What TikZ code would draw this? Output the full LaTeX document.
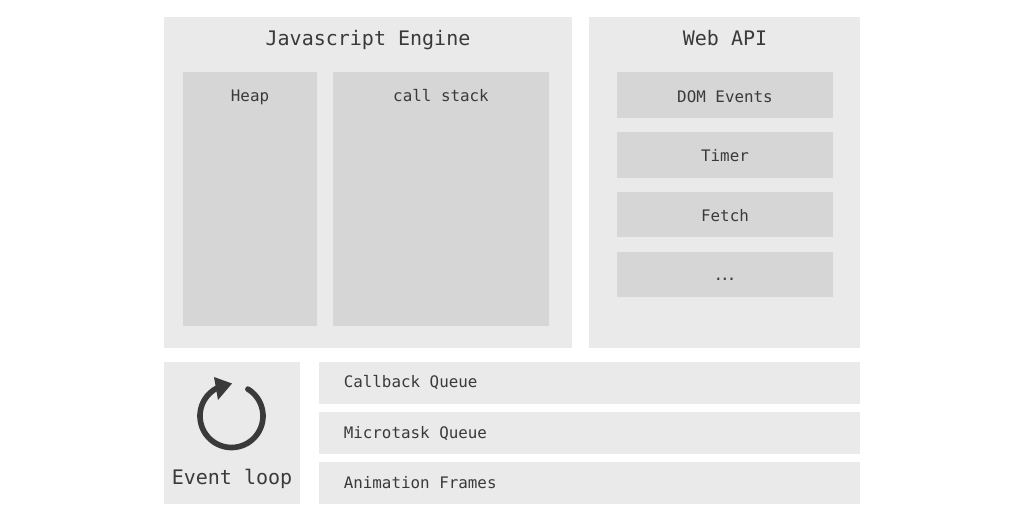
\documentclass[tikz,border=0pt]{standalone}
\usepackage{fontspec}
\setmainfont{DejaVu Sans Mono}
\definecolor{lt}{HTML}{EAEAEA}
\definecolor{dk}{HTML}{D6D6D6}
\definecolor{ink}{HTML}{3A3A3A}
\tikzset{
 px/.style={x=0.75pt,y=-0.75pt},
 panel/.style={fill=lt,draw=none},
 inner/.style={fill=dk,draw=none},
 lbl/.style={text=ink,inner sep=0pt,anchor=base,font=\fontsize{11.9}{14}\selectfont},
 qlbl/.style={lbl,anchor=base west},
 big/.style={text=ink,inner sep=0pt,anchor=base,font=\fontsize{15}{18}\selectfont},
}
\begin{document}
\begin{tikzpicture}[px]
\useasboundingbox (0,0) rectangle (1024,518);
\fill[white] (0,0) rectangle (1024,518);
\fill[panel] (164,17) rectangle (572,348);
\fill[panel] (589,17) rectangle (860,348);
\fill[panel] (164,362) rectangle (300,504);
\fill[panel] (319,362) rectangle (860,404);
\fill[panel] (319,412) rectangle (860,454);
\fill[panel] (319,462) rectangle (860,504);
\fill[inner] (183,72) rectangle (317,326);
\fill[inner] (333,72) rectangle (549,326);
\fill[inner] (617,72) rectangle (833,118);
\fill[inner] (617,132) rectangle (833,178);
\fill[inner] (617,192) rectangle (833,237);
\fill[inner] (617,252) rectangle (833,297);
\node[big] (t1) at (368,45) {Javascript Engine};
\node[big] (t2) at (725,45) {Web API};
\node[lbl] (h) at (250,101.5) {Heap};
\node[lbl] (c) at (441,101.5) {call stack};
\node[lbl] (d) at (725,102) {DOM Events};
\node[lbl] (ti) at (725,161.5) {Timer};
\node[lbl] (f) at (725,221) {Fetch};
\node[lbl] (e) at (725,280.5) {.\kern-2.2pt.\kern-2.2pt.};
\node[qlbl] (q1) at (343.5,387) {Callback Queue};
\node[qlbl] (q2) at (343.5,438) {Microtask Queue};
\node[qlbl] (q3) at (343.5,488.5) {Animation Frames};
\node[big] (el) at (232,484) {Event loop};
\draw[ink,line width=4.2pt,line cap=round] (231.5,416) ++(-58.6:31.5) arc[start angle=-58.6,end angle=243,radius=31.5];
\fill[ink] (232,383.5) -- (214,377) -- (218,400) -- cycle;
\end{tikzpicture}
\end{document}
